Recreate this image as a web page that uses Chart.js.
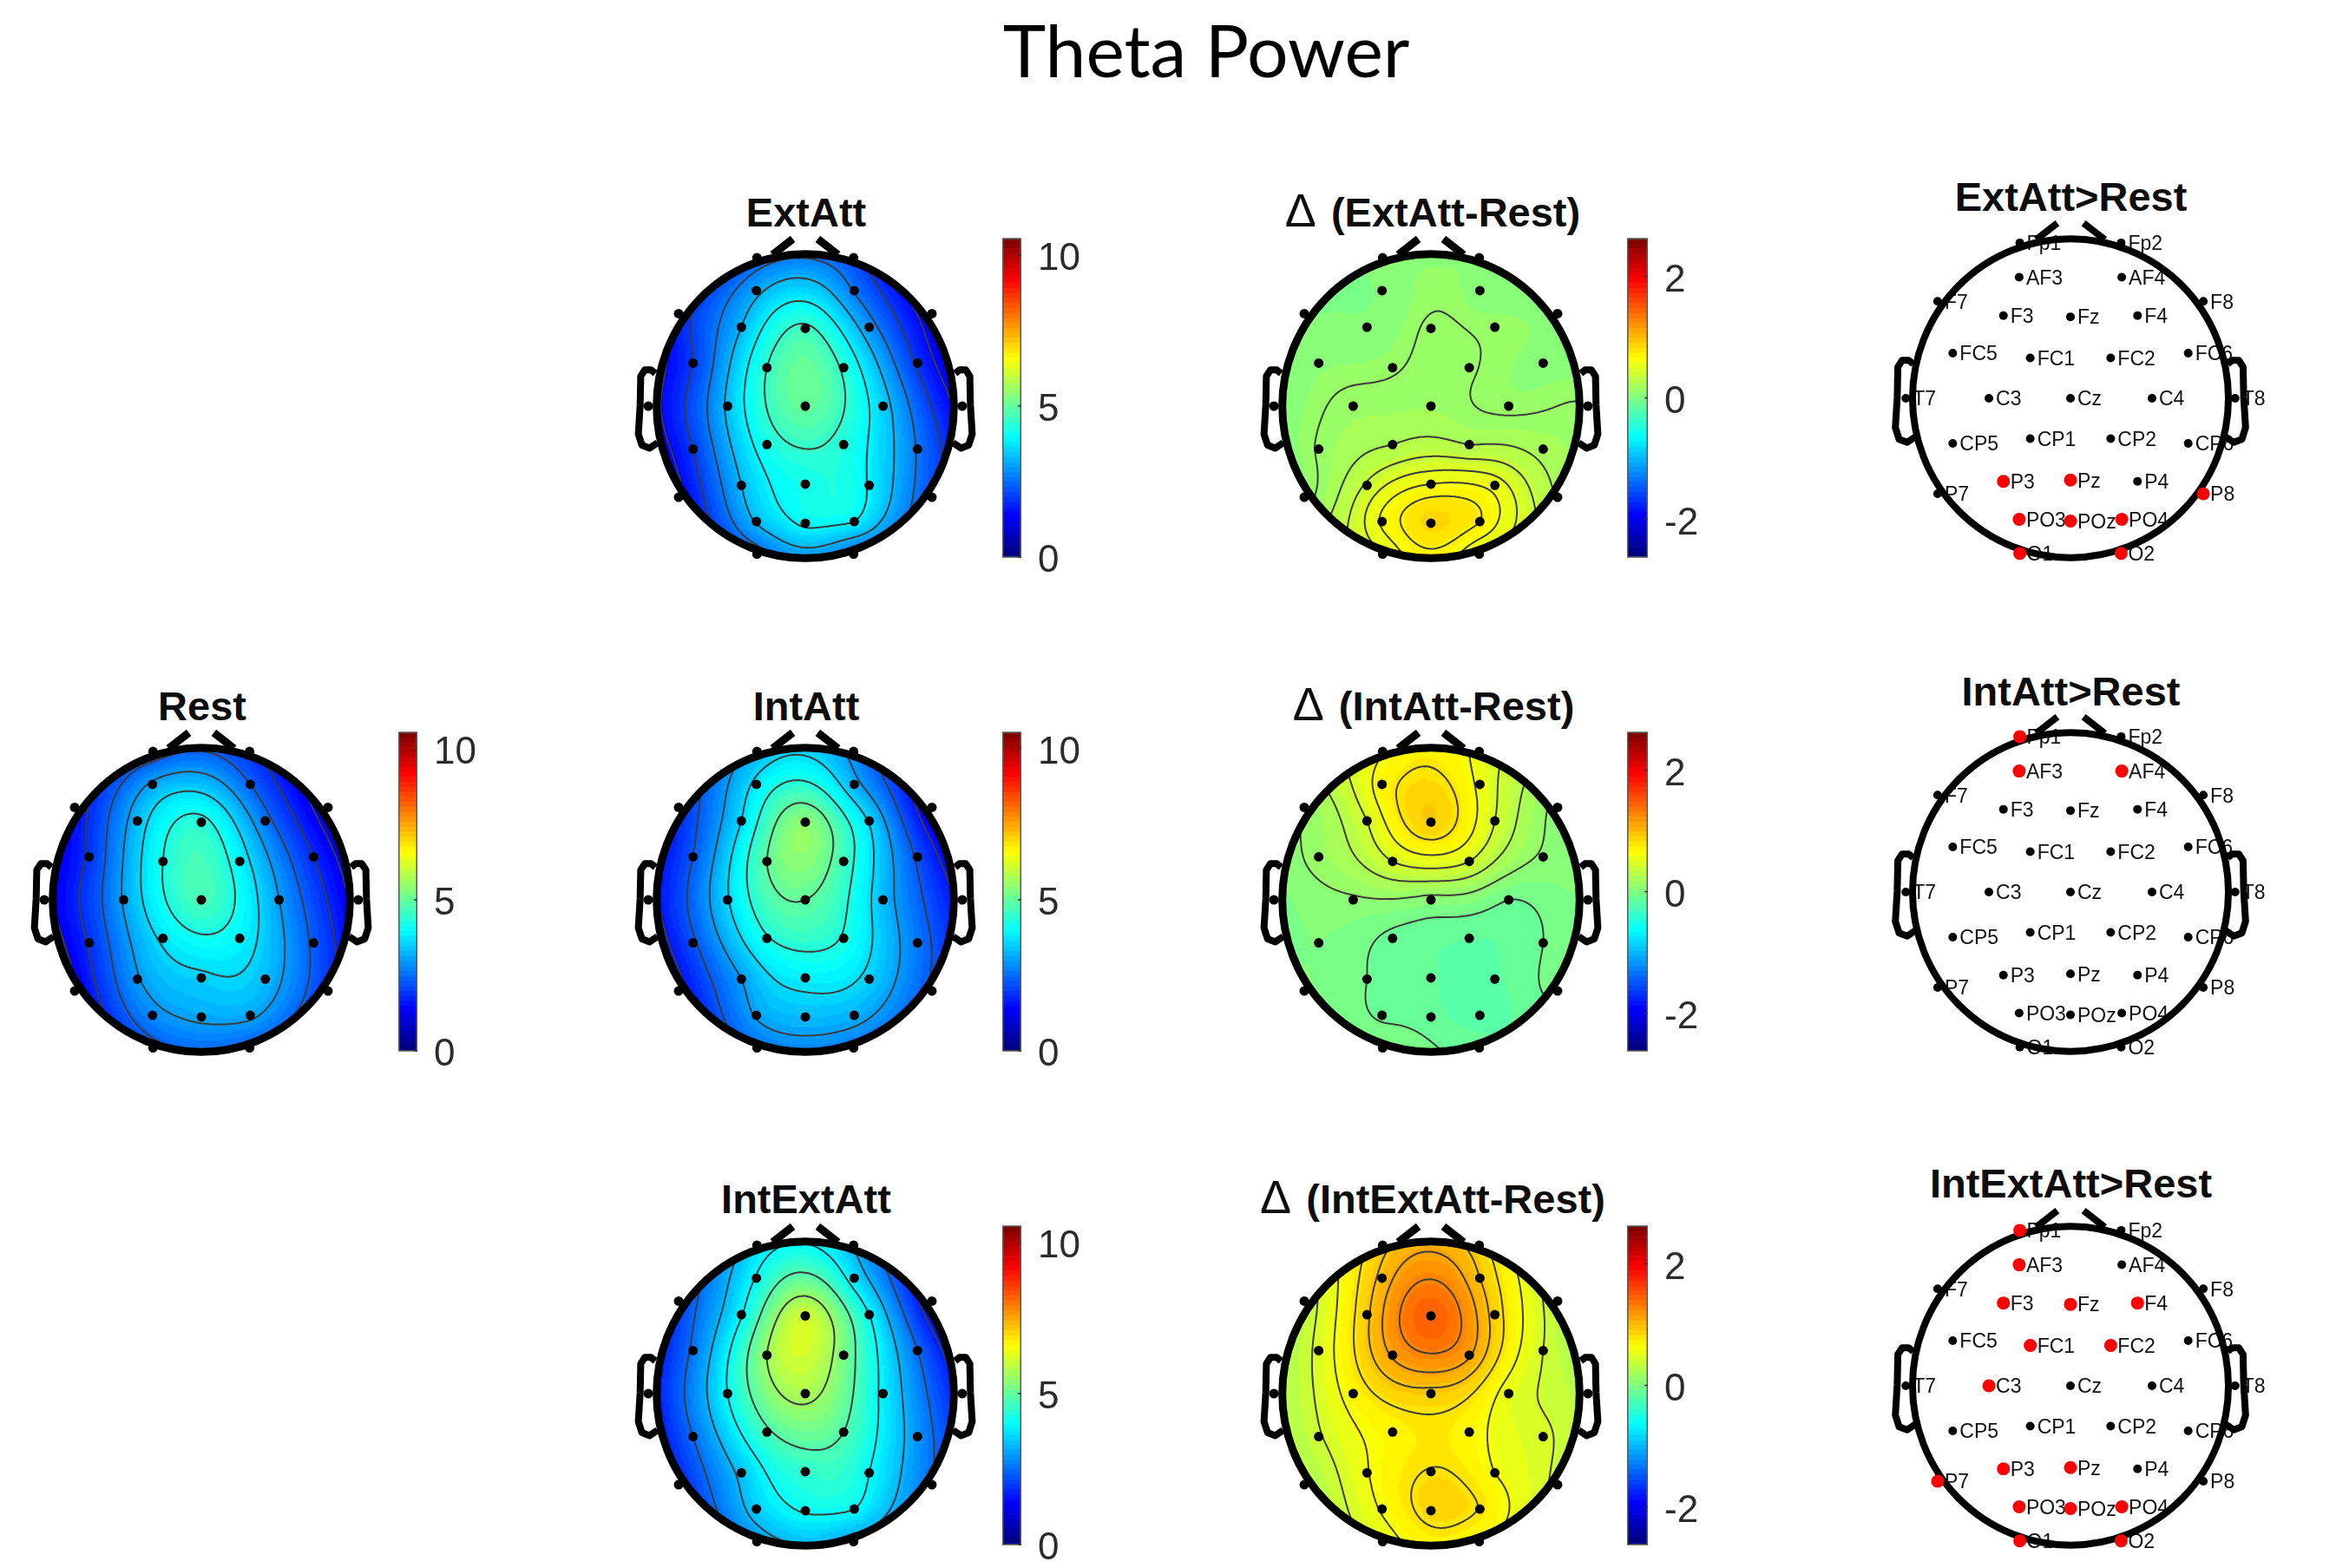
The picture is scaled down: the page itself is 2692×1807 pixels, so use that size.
<!DOCTYPE html>
<html>
<head>
<meta charset="utf-8">
<title>Theta Power</title>
<script src="https://cdn.jsdelivr.net/npm/chart.js@4"></script>
<style>
  html, body { margin: 0; background: #fff; }
  #stage { position: relative; width: 2692px; height: 1807px; overflow: hidden; }
  #stage canvas { position: absolute; }
  .panel-title { position: absolute; font: bold 47px "Liberation Sans", Arial, sans-serif; line-height: 47px; color: #0d0d0d; white-space: nowrap; transform: translateX(-50%); }
  .panel-title span { font-weight: normal; font-size: 54px; line-height: 0; margin-right: 4px; }
  #mainTitle { position: absolute; left: 1390px; top: 9px; transform: translateX(-50%); font: 84px Lato, sans-serif; line-height: 96px; color: #000; white-space: nowrap; }
</style>
</head>
<body>
<div id="stage"><div id="mainTitle">Theta Power</div></div>
<script>
  const electrodeNames = ["Fp1", "Fp2", "AF3", "AF4", "F7", "F3", "Fz", "F4", "F8", "FC5", "FC1", "FC2", "FC6", "T7", "C3", "Cz", "C4", "T8", "CP5", "CP1", "CP2", "CP6", "P7", "P3", "Pz", "P4", "P8", "PO3", "POz", "PO4", "O1", "O2"];
  const electrodeX = [-0.325, 0.325, -0.329, 0.329, -0.852, -0.43, 0, 0.43, 0.852, -0.755, -0.258, 0.258, 0.755, -1.056, -0.523, 0, 0.523, 1.056, -0.755, -0.258, 0.258, 0.755, -0.852, -0.43, 0, 0.43, 0.852, -0.329, 0, 0.329, -0.325, 0.325];
  const electrodeY = [0.975, 0.975, 0.759, 0.759, 0.608, 0.519, 0.511, 0.519, 0.608, 0.283, 0.253, 0.253, 0.283, 0, 0, 0, 0, 0, -0.283, -0.253, -0.253, -0.283, -0.599, -0.521, -0.513, -0.521, -0.599, -0.759, -0.77, -0.759, -0.973, -0.973];

  // power at each electrode, same order as electrodeNames
  const restValues = [2.1, 1.9, 3.1, 2.4, 1.5, 3.3, 4.35, 2.6, 1.0, 1.9, 4.2, 3.9, 1.8, 1.15, 3.05, 4.7, 3.0, 1.1, 1.85, 3.7, 3.9, 2.3, 1.2, 2.95, 3.5, 3.3, 1.9, 2.8, 3.1, 3.1, 2.2, 2.3];
  const extAttValues = [2.3, 2.1, 3.1, 2.6, 1.7, 3.25, 4.6, 2.9, 1.1, 2.0, 4.5, 4.4, 1.9, 1.2, 3.35, 5.0, 3.5, 1.25, 2.0, 4.2, 4.3, 2.6, 1.3, 3.25, 4.15, 3.85, 2.2, 3.3, 4.0, 3.9, 2.4, 2.5];
  const intAttValues = [3.2, 2.8, 3.8, 3.2, 1.8, 3.65, 5.4, 3.6, 1.1, 2.3, 4.95, 4.6, 2.2, 1.35, 3.6, 4.95, 3.3, 1.45, 2.2, 4.25, 4.25, 2.6, 1.4, 3.0, 3.85, 3.5, 2.2, 3.05, 3.3, 3.2, 2.5, 2.6];
  const intExtAttValues = [3.6, 3.2, 4.05, 3.7, 2.0, 3.95, 6.1, 4.0, 1.25, 2.6, 5.55, 5.2, 2.5, 1.45, 4.0, 5.7, 3.85, 1.6, 2.5, 4.7, 4.8, 2.9, 1.7, 3.4, 4.45, 4.0, 2.5, 3.5, 4.05, 4.0, 2.9, 3.0];
  const deltaExtValues = [0.03, 0.05, 0.01, 0.05, -0.01, 0.02, 0.135, 0.1, 0.04, 0.07, 0.11, 0.13, 0.06, 0.04, 0.15, 0.16, 0.1, 0.12, 0.13, 0.24, 0.24, 0.2, 0.09, 0.38, 0.6, 0.55, 0.23, 0.62, 0.85, 0.72, 0.48, 0.48];
  const deltaIntValues = [0.6, 0.55, 0.68, 0.56, 0.12, 0.43, 0.9, 0.43, 0.05, 0.14, 0.43, 0.43, 0.07, -0.02, 0.07, 0.04, -0.08, 0, 0, -0.11, -0.16, -0.08, 0, -0.08, -0.15, -0.18, -0.06, -0.1, -0.13, -0.23, 0, -0.11];
  const deltaIntExtValues = [0.9, 0.85, 1.0, 0.95, 0.32, 0.92, 1.47, 0.88, 0.3, 0.47, 1.12, 1.12, 0.42, 0.2, 0.68, 0.9, 0.52, 0.25, 0.4, 0.69, 0.68, 0.45, 0.22, 0.59, 0.8, 0.6, 0.38, 0.62, 0.85, 0.78, 0.5, 0.62];

  const restLevels = [1.3, 1.8, 2.4, 3.0, 3.6, 4.2];
  const extAttLevels = [1.45, 2.0, 2.65, 3.25, 3.9, 4.5];
  const intAttLevels = [1.6, 2.3, 3.0, 3.65, 4.3, 4.95];
  const intExtAttLevels = [1.7, 2.5, 3.25, 4.0, 4.8, 5.55];
  const deltaExtLevels = [0.12, 0.24, 0.36, 0.48, 0.6, 0.72];
  const deltaIntLevels = [-0.08, 0.09, 0.26, 0.43, 0.6, 0.77];
  const deltaIntExtLevels = [0.42, 0.6, 0.79, 0.95, 1.1, 1.28];

  // electrodes above threshold in the statistics heads
  const extAttSignificant = ["P3", "Pz", "P8", "PO3", "POz", "PO4", "O1", "O2"];
  const intAttSignificant = ["Fp1", "AF3", "AF4"];
  const intExtAttSignificant = ["Fp1", "AF3", "F3", "Fz", "F4", "FC1", "FC2", "C3", "P7", "P3", "Pz", "PO3", "POz", "PO4", "O1", "O2"];

  const powerRange = [0, 10.54];
  const deltaRange = [-2.62, 2.62];
  const powerTicks = [0, 5, 10];
  const deltaTicks = [-2, 0, 2];

  const earPath = [[-1.008, 0.215], [-1.037, 0.238], [-1.08, 0.238], [-1.107, 0.196], [-1.111, 0.006], [-1.123, -0.184], [-1.099, -0.257], [-1.047, -0.276], [-0.994, -0.241]];
  const nosePath = [[-0.22, 0.995], [-0.084, 1.099]];

  const stage = document.getElementById("stage");
  const GRID = 160;
  const GRID_EXTENT = 1.06;

  function jet(f) {
    const level = Math.min(63, Math.max(0, Math.floor(f * 64))) / 63;
    const c = (k) => Math.round(255 * Math.min(1, Math.max(0, 1.5 - Math.abs(4 * level - k))));
    return [c(3), c(2), c(1)];
  }

  function addCanvas(left, top, width, height) {
    const canvas = document.createElement("canvas");
    canvas.width = width;
    canvas.height = height;
    canvas.style.left = left + "px";
    canvas.style.top = top + "px";
    canvas.style.width = width + "px";
    canvas.style.height = height + "px";
    stage.appendChild(canvas);
    return canvas;
  }

  function addTitle(text, centerX, baseline) {
    const div = document.createElement("div");
    div.className = "panel-title";
    div.style.left = centerX + "px";
    div.style.top = baseline - 40 + "px";
    if (text.startsWith("Δ")) {
      div.innerHTML = `<span>Δ</span>${text.slice(1)}`;
    } else {
      div.textContent = text;
    }
    stage.appendChild(div);
  }

  // biharmonic spline through the electrodes, same idea as griddata v4
  function green(r) {
    return r > 0 ? r * r * (Math.log(r) - 1) : 0;
  }

  function solveWeights(values) {
    const n = values.length;
    const m = values.map((v, i) => {
      const row = values.map((_, j) => green(Math.hypot(electrodeX[i] - electrodeX[j], electrodeY[i] - electrodeY[j])));
      row.push(v);
      return row;
    });
    for (let c = 0; c < n; c++) {
      let pivot = c;
      for (let r = c + 1; r < n; r++) if (Math.abs(m[r][c]) > Math.abs(m[pivot][c])) pivot = r;
      [m[c], m[pivot]] = [m[pivot], m[c]];
      for (let r = 0; r < n; r++) {
        if (r === c) continue;
        const k = m[r][c] / m[c][c];
        for (let j = c; j <= n; j++) m[r][j] -= k * m[c][j];
      }
    }
    return m.map((row, i) => row[n] / row[i]);
  }

  function buildField(values) {
    const weights = solveWeights(values);
    const field = new Float64Array((GRID + 1) * (GRID + 1));
    for (let j = 0; j <= GRID; j++) {
      const y = GRID_EXTENT - (2 * GRID_EXTENT * j) / GRID;
      for (let i = 0; i <= GRID; i++) {
        const x = -GRID_EXTENT + (2 * GRID_EXTENT * i) / GRID;
        let sum = 0;
        for (let k = 0; k < weights.length; k++) sum += weights[k] * green(Math.hypot(x - electrodeX[k], y - electrodeY[k]));
        field[j * (GRID + 1) + i] = sum;
      }
    }
    return field;
  }

  function fieldImage(field, range) {
    const off = document.createElement("canvas");
    off.width = GRID + 1;
    off.height = GRID + 1;
    const octx = off.getContext("2d");
    const img = octx.createImageData(GRID + 1, GRID + 1);
    field.forEach((v, idx) => {
      const [r, g, b] = jet((v - range[0]) / (range[1] - range[0]));
      img.data[idx * 4] = r;
      img.data[idx * 4 + 1] = g;
      img.data[idx * 4 + 2] = b;
      img.data[idx * 4 + 3] = 255;
    });
    octx.putImageData(img, 0, 0);
    return off;
  }

  function drawContours(ctx, field, levels, px, py) {
    const at = (i, j) => field[j * (GRID + 1) + i];
    ctx.strokeStyle = "#3c3c3c";
    ctx.lineWidth = 2;
    ctx.lineCap = "round";
    levels.forEach((level) => {
      ctx.beginPath();
      for (let j = 0; j < GRID; j++) {
        for (let i = 0; i < GRID; i++) {
          const corners = [[i, j], [i + 1, j], [i + 1, j + 1], [i, j + 1]];
          const hits = [];
          for (let e = 0; e < 4; e++) {
            const [ax, ay] = corners[e];
            const [bx, by] = corners[(e + 1) % 4];
            const va = at(ax, ay);
            const vb = at(bx, by);
            if (va < level !== vb < level) {
              const t = (level - va) / (vb - va);
              hits.push([px(ax + (bx - ax) * t), py(ay + (by - ay) * t)]);
            }
          }
          for (let h = 0; h + 1 < hits.length; h += 2) {
            ctx.moveTo(hits[h][0], hits[h][1]);
            ctx.lineTo(hits[h + 1][0], hits[h + 1][1]);
          }
        }
      }
      ctx.stroke();
    });
  }

  function drawHead(ctx, scaleX, scaleY, ringX, ringWidth) {
    const X = (v) => scaleX.getPixelForValue(v);
    const Y = (v) => scaleY.getPixelForValue(v);
    ctx.strokeStyle = "#000";
    ctx.lineJoin = "round";
    ctx.lineCap = "butt";
    ctx.lineWidth = ringWidth;
    ctx.beginPath();
    ctx.ellipse(X(0), Y(0), X(ringX) - X(0), Y(-1) - Y(0), 0, 0, Math.PI * 2);
    ctx.stroke();
    [-1, 1].forEach((side) => {
      ctx.beginPath();
      nosePath.forEach(([x, y], i) => (i ? ctx.lineTo(X(side * x), Y(y)) : ctx.moveTo(X(side * x), Y(y))));
      ctx.stroke();
      ctx.save();
      ctx.lineWidth = 8;
      ctx.beginPath();
      earPath.forEach(([x, y], i) => (i ? ctx.lineTo(X(side * x), Y(y)) : ctx.moveTo(X(side * x), Y(y))));
      ctx.stroke();
      ctx.restore();
    });
  }

  const topoPlugin = {
    id: "topo",
    beforeDatasetsDraw(chart, args, opts) {
      const { ctx, scales } = chart;
      const X = (v) => scales.x.getPixelForValue(v);
      const Y = (v) => scales.y.getPixelForValue(v);
      ctx.save();
      if (opts.values) {
        if (!chart.$field) {
          chart.$field = buildField(opts.values);
          chart.$image = fieldImage(chart.$field, opts.range);
        }
        ctx.save();
        ctx.beginPath();
        ctx.ellipse(X(0), Y(0), X(1) - X(0), Y(-1) - Y(0), 0, 0, Math.PI * 2);
        ctx.clip();
        ctx.imageSmoothingEnabled = true;
        ctx.drawImage(chart.$image, X(-GRID_EXTENT), Y(GRID_EXTENT), X(GRID_EXTENT) - X(-GRID_EXTENT), Y(-GRID_EXTENT) - Y(GRID_EXTENT));
        const px = (i) => X(-GRID_EXTENT + (2 * GRID_EXTENT * i) / GRID);
        const py = (j) => Y(GRID_EXTENT - (2 * GRID_EXTENT * j) / GRID);
        drawContours(ctx, chart.$field, opts.levels, px, py);
        ctx.restore();
      }
      if (opts.labels) {
        ctx.fillStyle = "#111";
        ctx.font = '23px "Liberation Sans", Arial, sans-serif';
        ctx.textBaseline = "middle";
        electrodeNames.forEach((name, i) => ctx.fillText(name, X(electrodeX[i]) + 8, Y(electrodeY[i]) + 2));
      }
      drawHead(ctx, scales.x, scales.y, opts.ringX, opts.labels ? 8 : 9);
      ctx.restore();
    },
  };

  const colorbarPlugin = {
    id: "colorbarFrame",
    afterDatasetsDraw(chart, args, opts) {
      const { ctx, chartArea, scales } = chart;
      ctx.save();
      ctx.strokeStyle = "#5a5a5a";
      ctx.lineWidth = 1.5;
      ctx.strokeRect(chartArea.left + 0.75, chartArea.top, chartArea.width - 1.5, chartArea.height);
      ctx.strokeStyle = "#333";
      opts.ticks.forEach((v) => {
        const y = scales.y.getPixelForValue(v);
        ctx.beginPath();
        ctx.moveTo(chartArea.right - 4, y);
        ctx.lineTo(chartArea.right, y);
        ctx.stroke();
      });
      ctx.restore();
    },
  };

  function createHead(cx, cy, config) {
    const width = config.labels ? 520 : 480;
    const height = width;
    const ux = config.labels ? 179.7 : 171.3;
    const uy = config.labels ? 183.7 : 175.3;
    const dot = config.labels ? 5 : 5.5;
    const canvas = addCanvas(cx - width / 2, cy - height / 2, width, height);
    const significant = config.significant || [];
    const isRed = electrodeNames.map((name) => significant.includes(name));
    return new Chart(canvas, {
      type: "scatter",
      plugins: [topoPlugin],
      data: {
        datasets: [
          {
            data: electrodeX.map((x, i) => ({ x, y: electrodeY[i] })),
            backgroundColor: isRed.map((red) => (red ? "#ff0000" : "#000")),
            borderWidth: 0,
            pointRadius: isRed.map((red) => (red ? 7.5 : dot)),
            pointHoverRadius: isRed.map((red) => (red ? 7.5 : dot)),
          },
        ],
      },
      options: {
        responsive: false,
        animation: false,
        events: [],
        layout: { padding: 0, autoPadding: false },
        scales: {
          x: { display: false, min: -width / 2 / ux, max: width / 2 / ux },
          y: { display: false, min: -height / 2 / uy, max: height / 2 / uy },
        },
        plugins: {
          legend: { display: false },
          tooltip: { enabled: false },
          topo: { values: config.values, levels: config.levels, range: config.range, labels: config.labels, ringX: config.labels ? 1.013 : 1 },
        },
      },
    });
  }

  function createColorbar(left, cy, barWidth, range, ticks) {
    const pad = 30;
    const axisWidth = 110;
    const canvas = addCanvas(left, cy - 193 - pad, barWidth + axisWidth, 367 + pad * 2);
    const span = range[1] - range[0];
    const datasets = [];
    for (let i = 0; i < 64; i++) {
      const [r, g, b] = jet((i + 0.5) / 64);
      datasets.push({
        data: [[range[0] + (span * i) / 64, range[0] + (span * (i + 1)) / 64]],
        backgroundColor: `rgb(${r},${g},${b})`,
        borderWidth: 0,
        barPercentage: 1,
        categoryPercentage: 1,
      });
    }
    return new Chart(canvas, {
      type: "bar",
      plugins: [colorbarPlugin],
      data: { labels: [""], datasets },
      options: {
        responsive: false,
        animation: false,
        events: [],
        layout: { padding: { top: pad, bottom: pad, left: 0, right: 0 }, autoPadding: false },
        scales: {
          x: { display: false, stacked: true },
          y: {
            position: "right",
            min: range[0],
            max: range[1],
            afterBuildTicks: (scale) => {
              scale.ticks = ticks.map((value) => ({ value }));
            },
            afterFit: (scale) => {
              scale.width = axisWidth;
              scale.paddingTop = 0;
              scale.paddingBottom = 0;
            },
            grid: { display: false, drawTicks: false },
            border: { display: false },
            ticks: { padding: 19, labelOffset: 5, color: "#2b2b2b", font: { family: '"Liberation Sans", Arial, sans-serif', size: 44 }, autoSkip: false },
          },
        },
        plugins: { legend: { display: false }, tooltip: { enabled: false }, colorbarFrame: { ticks } },
      },
    });
  }

  function createPowerPanel(title, titleX, titleY, cx, cy, barLeft, values, levels, range, ticks, barWidth) {
    addTitle(title, titleX, titleY);
    createHead(cx, cy, { values, levels, range });
    createColorbar(barLeft, cy, barWidth, range, ticks);
  }

  function createStatPanel(title, titleY, cy, significant) {
    addTitle(title, 2386.5, titleY);
    createHead(2385.7, cy, { labels: true, significant });
  }

  createPowerPanel("Rest", 233, 830, 232, 1037, 459, restValues, restLevels, powerRange, powerTicks, 22);
  createPowerPanel("ExtAtt", 929, 261, 928, 468, 1155, extAttValues, extAttLevels, powerRange, powerTicks, 22);
  createPowerPanel("IntAtt", 929, 830, 928, 1037, 1155, intAttValues, intAttLevels, powerRange, powerTicks, 22);
  createPowerPanel("IntExtAtt", 929, 1398, 928, 1606, 1155, intExtAttValues, intExtAttLevels, powerRange, powerTicks, 22);
  createPowerPanel("Δ (ExtAtt-Rest)", 1651, 261, 1649.3, 468, 1875, deltaExtValues, deltaExtLevels, deltaRange, deltaTicks, 24);
  createPowerPanel("Δ (IntAtt-Rest)", 1652, 830, 1649.3, 1037, 1875, deltaIntValues, deltaIntLevels, deltaRange, deltaTicks, 24);
  createPowerPanel("Δ (IntExtAtt-Rest)", 1651, 1398, 1649.3, 1606, 1875, deltaIntExtValues, deltaIntExtLevels, deltaRange, deltaTicks, 24);
  createStatPanel("ExtAtt>Rest", 243, 458.7, extAttSignificant);
  createStatPanel("IntAtt>Rest", 813, 1028.3, intAttSignificant);
  createStatPanel("IntExtAtt>Rest", 1380, 1597, intExtAttSignificant);
</script>
</body>
</html>
